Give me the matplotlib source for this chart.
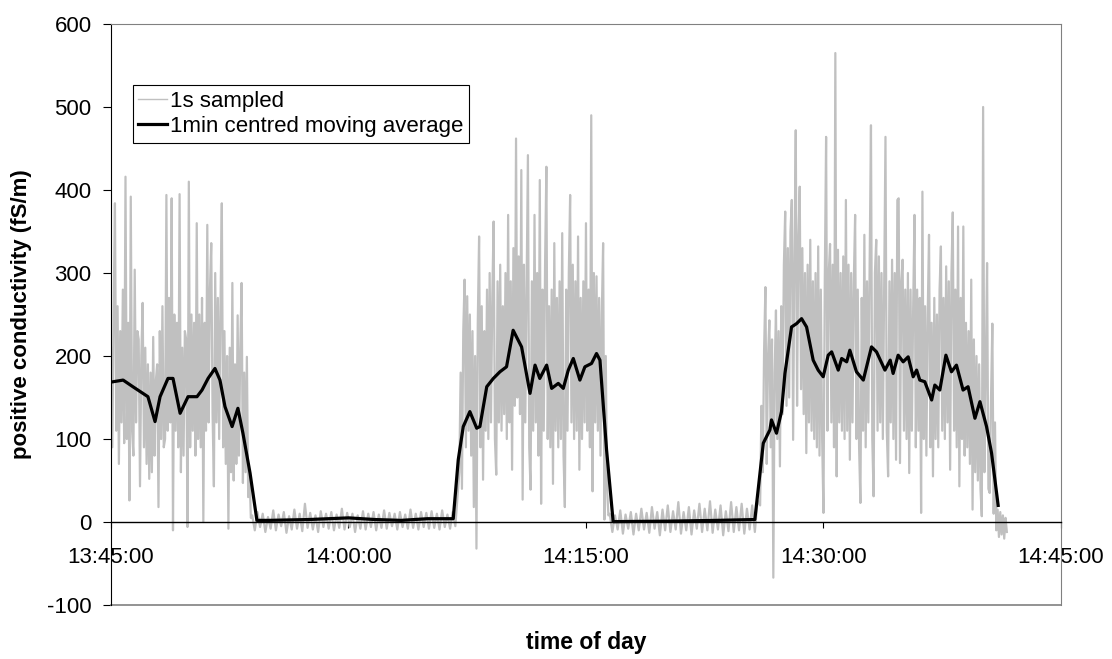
import numpy as np
import matplotlib
matplotlib.use("Agg")
import matplotlib.pyplot as plt

plt.rcParams["font.family"] = ["Liberation Sans", "DejaVu Sans"]
plt.rcParams["axes.unicode_minus"] = False

# time ticks (seconds after 13:45:00)
tick_secs = [0, 900, 1800, 2700, 3600]
tick_labels = ["13:45:00", "14:00:00", "14:15:00", "14:30:00", "14:45:00"]

# 1s sampled signal at a coarser step
seg1_start, seg1_step = 0, 5
seg1 = [210, 90, 250, 384, 110, 260, 70, 230, 120, 280, 95, 416, 100, 240, 26, 392,
        110, 80, 304, 120, 230, 220, 43, 200, 264, 90, 210, 70, 190, 52, 180, 60,
        223, 80, 170, 190, 18, 230, 100, 260, 90, 100, 394, 110, 270, 120, 390, -10,
        250, 110, 240, 90, 395, 60, 210, 80, 230, 220, -6, 410, 90, 250, 110, 240,
        80, 360, 100, 250, 90, 270, 0, 240, 110, 358, 120, 280, 336, 130, 43, 300,
        120, 270, 100, 260, 384, 90, 230, 70, 200, -8, 210, 60, 288, 50, 190, 70,
        249, 80, 210, 288, 47, 180, 60, 199, 30, 60, 5]

quiet1_start, quiet1_step = 535, 10
quiet1 = [8, -10, 12, -6, 10, -12, 6, -8, 14, -10, 9, -5, 12, -13, 7, -9, 15, -8, 10, -11,
          22, -7, 11, -9, 8, -12, 13, -6, 10, -8, 12, -10, 9, -7, 16, -9, 11, -6, 10, -12,
          8, -8, 13, -9, 10, -6, 12, -10, 9, -7, 14, -8, 11, -5, 10, -9, 12, -6, 9, -8,
          15, -7, 10, -9, 12, -6, 11, -8, 13, -7, 10, -9, 14, -6, 9, -8, 12, -5]

seg2_start, seg2_step = 1320, 5
seg2 = [60, 180, 40, 230, 292, 90, 272, 110, 250, 80, 230, 18, 200, -32, 240, 344,
        90, 260, 51, 230, 110, 280, 100, 300, 120, 270, 362, 100, 57, 290, 120, 310,
        110, 260, 130, 300, 100, 370, 120, 290, 63, 330, 140, 462, 150, 320, 130, 424,
        27, 310, 120, 280, 442, 90, 39, 290, 110, 370, 120, 300, 80, 412, 22, 280,
        110, 310, 428, 100, 260, 90, 280, 46, 336, 110, 270, 90, 290, 100, 348, 80,
        18, 280, 110, 300, 394, 120, 310, 100, 290, 110, 344, 63, 270, 100, 290, 120,
        360, 110, 280, 90, 490, 37, 300, 120, 296, 110, 270, 80, 250, 336, 3, 200,
        40, 8]

quiet2_start, quiet2_step = 1890, 10
quiet2 = [10, -12, 8, -9, 14, -14, 9, -8, 12, -15, 10, -10, 16, -9, 11, -13, 18, -8, 12, -16,
          15, -10, 20, -12, 13, -9, 24, -14, 12, -10, 18, -15, 14, -8, 22, -12, 16, -10, 25, -13,
          15, -9, 20, -16, 13, -11, 24, -12, 18, -10, 22, -14, 16, -9, 20, -12, 26]

seg3_start, seg3_step = 2460, 5
seg3 = [20, 140, 60, 207, 283, 70, 200, 243, 90, 220, -67, 180, 255, 100, 230, 67,
        260, 130, 310, 374, 140, 330, 150, 350, 388, 99, 320, 472, 140, 340, 404, 160,
        330, 130, 300, 83, 310, 120, 340, 110, 290, 100, 300, 90, 332, 80, 280, 100,
        11, 290, 464, 110, 300, 335, 120, 310, 90, 565, 55, 328, 120, 300, 110, 320,
        100, 388, 110, 310, 75, 300, 120, 290, 370, 100, 280, 90, 23, 270, 110, 346,
        90, 290, 120, 310, 478, 100, 31, 300, 340, 110, 320, 120, 300, 100, 280, 464,
        110, 55, 290, 120, 316, 100, 300, 75, 388, 390, 71, 290, 316, 110, 280, 100,
        300, 59, 280, 110, 260, 370, 90, 280, 110, 270, 11, 398, 100, 260, 80, 250,
        346, 90, 240, 55, 270, 100, 250, 90, 280, 332, 110, 270, 100, 308, 120, 290,
        63, 300, 373, 110, 280, 90, 356, 43, 270, 100, 356, 80, 240, 90, 230, 70,
        292, 15, 220, 60, 200, 50, 190, 40, 7, 500, 60, 180, 312, 40, 35, 150,
        239, 10, 120, -10, 15, -18, 12, -15, 8, -20, 5, -12]

# 1 min centred moving average (time in s, value)
avg_t = [8, 46, 83, 121, 140, 167, 186, 216, 235, 262, 292, 326, 345, 368, 394, 413,
         432, 459, 481, 500, 527, 553, 600, 750, 900, 1000, 1100, 1200, 1297,
         1316, 1335, 1360, 1386, 1398, 1424, 1449, 1474, 1499, 1524, 1556, 1588, 1607,
         1625, 1651, 1670, 1695, 1714, 1733, 1752, 1777, 1796, 1821, 1840, 1853, 1878,
         1903, 2100, 2300, 2440,
         2472, 2497, 2503, 2522, 2541, 2554, 2579, 2598, 2617, 2636, 2661, 2680, 2699,
         2718, 2731, 2756, 2769, 2788, 2800, 2825, 2851, 2882, 2901, 2933, 2953, 2964,
         2983, 3002, 3021, 3040, 3053, 3065, 3084, 3110, 3122, 3141, 3164, 3185, 3204,
         3229, 3248, 3274, 3293, 3318, 3337, 3362]
avg_v = [169, 171, 163, 155, 151, 121, 151, 173, 173, 131, 151, 151, 159, 173, 185, 171,
         139, 115, 137, 107, 59, 2, 2, 3, 5, 3, 2, 4, 4,
         75, 115, 133, 113, 115, 163, 173, 181, 187, 231, 211, 155, 189,
         173, 189, 161, 167, 161, 183, 197, 171, 187, 191, 203, 195, 87,
         0.5, 1, 2, 3,
         95, 111, 123, 107, 133, 179, 235, 239, 245, 235, 195, 183, 175,
         201, 205, 183, 197, 193, 207, 181, 171, 211, 205, 183, 195, 179,
         201, 193, 199, 175, 183, 171, 169, 147, 165, 159, 201, 181, 189,
         159, 163, 125, 145, 115, 83, 20]

raw_t = []
raw_v = []
for start, step, vals in [(seg1_start, seg1_step, seg1), (quiet1_start, quiet1_step, quiet1),
                          (seg2_start, seg2_step, seg2), (quiet2_start, quiet2_step, quiet2),
                          (seg3_start, seg3_step, seg3)]:
    raw_t.extend(start + step * i for i in range(len(vals)))
    raw_v.extend(vals)

fig = plt.figure(figsize=(11.12, 6.59), dpi=100)
ax = fig.add_axes([0.0998, 0.0819, 0.8543, 0.8817])

ax.plot(raw_t, raw_v, color="#c0c0c0", lw=1.6, label="1s sampled", zorder=2)
ax.plot(avg_t, avg_v, color="black", lw=2.3, label="1min centred moving average", zorder=3)

ax.set_xlim(0, 3600)
ax.set_ylim(-100, 600)
ax.set_yticks(range(-100, 601, 100))
ax.set_xticks(tick_secs)
ax.set_xticklabels(tick_labels)

# x axis crosses at zero, grey frame around the plot area
ax.spines["bottom"].set_position(("data", 0))
ax.spines["bottom"].set_color("black")
ax.spines["bottom"].set_linewidth(1.0)
ax.spines["left"].set_color("black")
ax.spines["top"].set_color("#808080")
ax.spines["right"].set_color("#808080")
ax.plot([0, 1], [0, 0], transform=ax.transAxes, color="#808080", lw=1.2, clip_on=False)

ax.tick_params(axis="x", direction="out", length=4, pad=14, labelsize=16, color="black")
ax.tick_params(axis="y", direction="out", length=6, pad=8, labelsize=16)

ax.set_ylabel("positive conductivity (fS/m)", fontsize=16, fontweight="bold")
ax.yaxis.set_label_coords(-0.083, 0.5)
ax.set_xlabel("time of day", fontsize=16.5, fontweight="bold")
ax.xaxis.set_label_coords(0.5, -0.045)

leg = ax.legend(loc="upper left", bbox_to_anchor=(0.0228, 0.895), fontsize=16,
                frameon=True, fancybox=False, edgecolor="black", framealpha=1,
                handlelength=1.3, handletextpad=0.15, borderpad=0.25, labelspacing=0.2,
                borderaxespad=0)
leg.get_frame().set_linewidth(0.8)
leg.get_lines()[0].set_linewidth(1.0)

fig.savefig("out.png", dpi=100)
